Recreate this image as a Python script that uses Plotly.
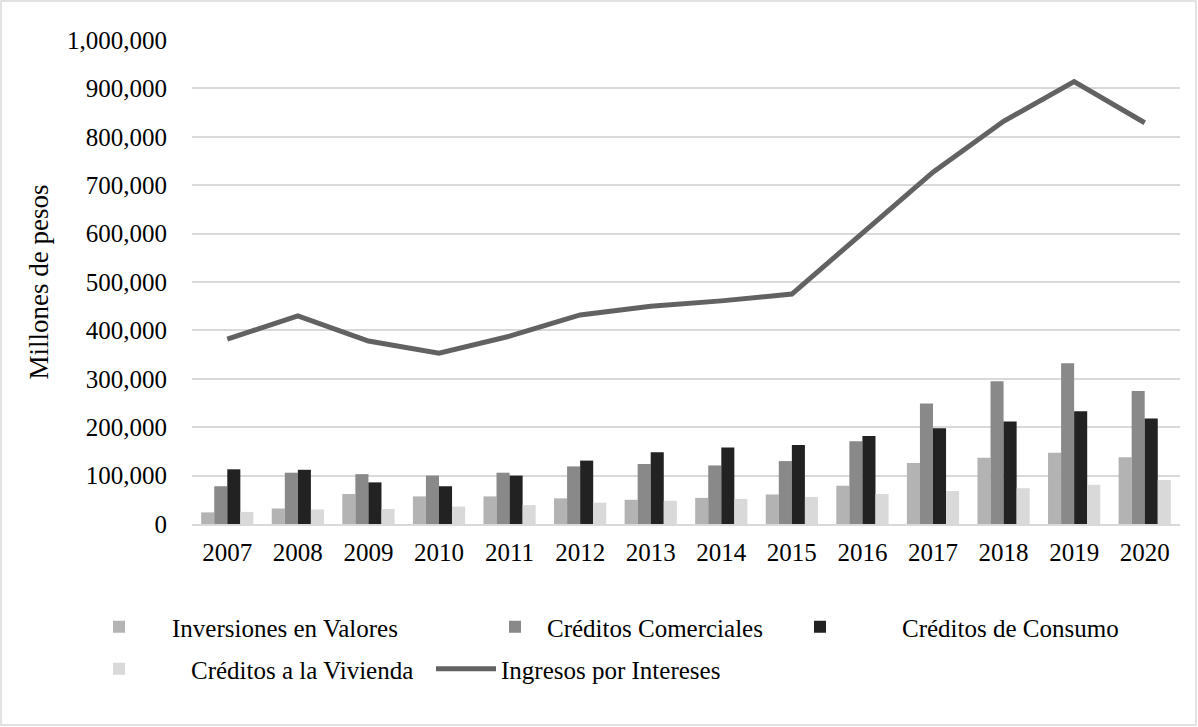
import plotly.graph_objects as go

years = ["2007", "2008", "2009", "2010", "2011", "2012", "2013",
         "2014", "2015", "2016", "2017", "2018", "2019", "2020"]

inversiones = [24000, 32000, 62000, 57000, 57000, 53000, 50000,
               54000, 61000, 79000, 126000, 137000, 147000, 138000]
comerciales = [78000, 106000, 103000, 100000, 106000, 119000, 124000,
               121000, 130000, 171000, 249000, 295000, 332000, 275000]
consumo = [113000, 112000, 86000, 78000, 100000, 131000, 148000,
           158000, 163000, 182000, 198000, 212000, 233000, 218000]
vivienda = [25000, 30000, 31000, 36000, 39000, 44000, 48000,
            52000, 56000, 62000, 68000, 74000, 81000, 91000]
ingresos = [382000, 430000, 378000, 353000, 388000, 432000, 450000,
            461000, 475000, 600000, 727000, 832000, 914000, 829000]

yticks = [0, 100000, 200000, 300000, 400000, 500000, 600000,
          700000, 800000, 900000, 1000000]
ytick_text = ["0", "100,000", "200,000", "300,000", "400,000", "500,000",
              "600,000", "700,000", "800,000", "900,000", "1,000,000"]

FONT = "Liberation Serif"

fig = go.Figure()
fig.add_trace(go.Bar(x=years, y=inversiones, name="Inversiones en Valores",
                     marker=dict(color="#b3b3b3", line=dict(width=0)),
                     legend="legend"))
fig.add_trace(go.Bar(x=years, y=comerciales, name="Créditos Comerciales",
                     marker=dict(color="#898989", line=dict(width=0)),
                     legend="legend2"))
fig.add_trace(go.Bar(x=years, y=consumo, name="Créditos de Consumo",
                     marker=dict(color="#222222", line=dict(width=0)),
                     legend="legend3"))
fig.add_trace(go.Bar(x=years, y=vivienda, name="Créditos a la Vivienda",
                     marker=dict(color="#d9d9d9", line=dict(width=0)),
                     legend="legend4"))
fig.add_trace(go.Scatter(x=years, y=ingresos, name="Ingresos por Intereses",
                         mode="lines", line=dict(color="#626262", width=5),
                         legend="legend5"))

L, R, T, B = 192, 18, 40, 203
W, H = 1198, 727
pw = W - L - R
ph = H - T - B


def px_x(p):
    return (p - L) / pw


def px_y(p):
    return (H - B - p) / ph


def leg(left, cy, iw):
    return dict(orientation="h", x=px_x(left), xanchor="left",
                y=px_y(cy), yanchor="middle", yref="paper",
                font=dict(family=FONT, size=25, color="#000000"),
                itemwidth=iw, bgcolor="rgba(0,0,0,0)")


fig.update_layout(
    width=W, height=H,
    margin=dict(l=L, r=R, t=T, b=B),
    paper_bgcolor="white", plot_bgcolor="white",
    font=dict(family=FONT, size=25, color="#000000"),
    barmode="group", bargap=0.26, bargroupgap=0,
    showlegend=True,
    legend=leg(66, 627, 96),
    legend2=leg(483, 627, 54),
    legend3=leg(738, 627, 154),
    legend4=leg(47, 669, 134),
    legend5=leg(431, 669, 60),
    xaxis=dict(showgrid=False, showline=True, linecolor="#d9d9d9", linewidth=1.5,
               ticks="", tickfont=dict(family=FONT, size=25, color="#000000"),
               ticklabelstandoff=5),
    yaxis=dict(range=[0, 1000000], tickvals=yticks, ticktext=ytick_text,
               showgrid=True, gridcolor="#d9d9d9", gridwidth=1.5,
               zeroline=False, ticks="", showline=False,
               tickfont=dict(family=FONT, size=25, color="#000000"),
               ticklabelstandoff=24,
               title=dict(text="Millones de pesos", standoff=10,
                          font=dict(family=FONT, size=27, color="#000000"))),
    shapes=[dict(type="rect", xref="paper", yref="paper",
                 x0=(1 - L) / pw, x1=(W - 2 - L) / pw,
                 y0=-(H - 2 - T - ph) / ph, y1=1 + (T - 1) / ph,
                 line=dict(color="#d9d9d9", width=1.5), fillcolor="rgba(0,0,0,0)",
                 layer="below")],
)

fig.write_html("out.html")
